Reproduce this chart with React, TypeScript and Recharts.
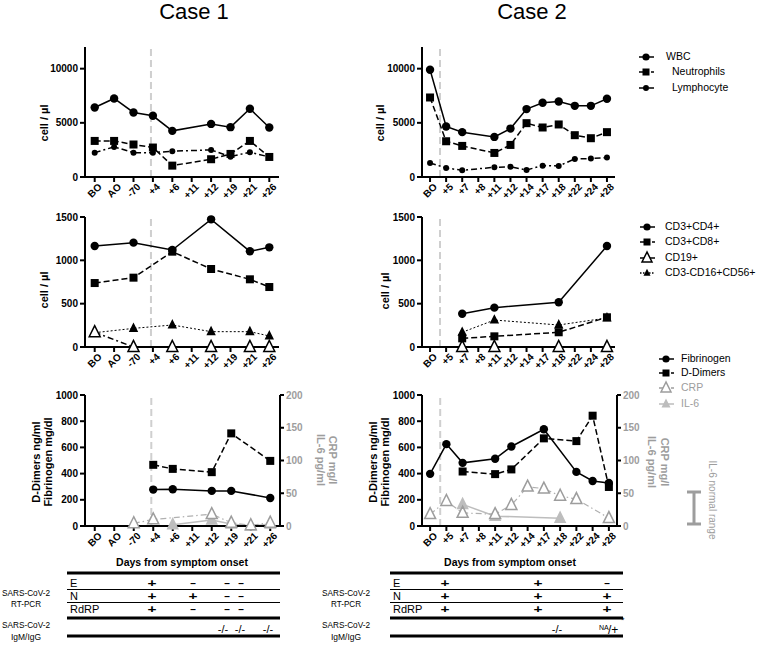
import React from 'react';
import { LineChart, Line, XAxis, YAxis, ReferenceLine } from 'recharts';

const FONT = '"Liberation Sans", Arial, Helvetica, sans-serif';
const GRAY = '#9d9d9d';
const LIGHT = '#bdbdbd';

// ---- Case 1 ----
const case1Days = ['BO', 'AO', '-70', '+4', '+6', '+11', '+12', '+19', '+21', '+26'];
const case1Wbc = [6420, 7250, 5960, 5650, 4260, null, 4900, 4600, 6300, 4570];
const case1Neutrophils = [3330, 3330, 3000, 2720, 1050, null, 1640, 2130, 3330, 1850];
const case1Lymphocytes = [2250, 2780, 2250, 2250, 2380, null, 2500, 1880, 2290, 1850];
const case1Cd4 = [1165, null, 1204, null, 1119, null, 1473, null, 1104, 1150];
const case1Cd8 = [738, null, 800, null, 1100, null, 900, null, 781, 692];
const case1Cd19 = [170, null, 0, null, 0, null, 0, null, 0, 0];
const case1Nk = [165, null, 215, null, 254, null, 177, null, 177, 127];
const case1Fibrinogen = [null, null, null, 278, 280, null, 268, 268, null, 214];
const case1DDimers = [null, null, null, 467, 436, null, 411, 707, null, 497];
const case1Crp = [null, null, 4, 10, null, null, 18, 5, 1, 5];
const case1Il6 = [null, null, null, null, 2, null, 9, 3, 0, 3];

// ---- Case 2 ----
const case2Days = ['BO', '+5', '+7', '+8', '+11', '+12', '+14', '+17', '+18', '+22', '+24', '+28'];
const case2Wbc = [9900, 4660, 4140, null, 3700, 4470, 6270, 6850, 6970, 6570, 6570, 7220];
const case2Neutrophils = [7340, 3300, 2870, null, 2220, 2960, 4970, 4570, 4850, 3860, 3580, 4140];
const case2Lymphocytes = [1300, 830, 620, null, 900, 940, 650, 1050, 1020, 1670, 1700, 1790];
const case2Cd4 = [null, null, 384, null, 454, null, null, null, 516, null, null, 1165];
const case2Cd8 = [null, null, 100, null, 123, null, null, null, 170, null, null, 343];
const case2Cd19 = [null, null, 0, null, 0, null, null, null, 0, null, null, 0];
const case2Nk = [null, null, 170, null, 311, null, null, null, 254, null, null, 335];
const case2Fibrinogen = [398, 625, 482, null, 513, 607, null, 738, null, 413, 344, 329];
const case2DDimers = [null, null, 416, null, 396, 432, null, 669, null, 648, 842, 298];
const case2Crp = [18, 38, 20, null, 18, 32, 60, 57, 46, 41, null, 12];
const case2Il6 = [null, null, 33, null, 15, null, null, null, 12, null, null, null];

// symptom onset marker (position between day columns)
const case1Onset = 2.9;
const case2Onset = 0.62;

// ---- tables ----
const pcrRows = ['E', 'N', 'RdRP'];
const case1Pcr = [
  ['+', '-', '-', '-'],
  ['+', '+', '-', '-'],
  ['+', '-', '-', '-'],
];
const case1Serology = ['-/-', '-/-', '-/-'];
const case2Pcr = [
  ['+', '+', '-'],
  ['+', '+', '+'],
  ['+', '+', '+'],
];
const case2Serology = ['-/-', 'NA/+'];

const cellTicks = [0, 5000, 10000];
const subsetTicks = [0, 500, 1000, 1500];
const coagTicks = [0, 200, 400, 600, 800, 1000];
const inflamTicks = [0, 50, 100, 150, 200];

type Row = Record<string, any>;
function buildRows(days: string[], series: Record<string, (number | null)[]>): Row[] {
  return days.map((d, i) => {
    const r: Row = { i, day: d };
    Object.keys(series).forEach((k) => (r[k] = series[k][i]));
    return r;
  });
}

const empty = (p: any) => p.cx == null || p.cy == null || p.value == null;

const circleDot = (r: number) => (p: any) =>
  empty(p) ? <g key={p.index} /> : <circle key={p.index} cx={p.cx} cy={p.cy} r={r} fill="#000" />;

const squareDot = (s: number) => (p: any) =>
  empty(p) ? <g key={p.index} /> : <rect key={p.index} x={p.cx - s / 2} y={p.cy - s / 2} width={s} height={s} fill="#000" />;

const triPoints = (cx: number, cy: number, s: number) =>
  `${cx},${cy - s * 0.6} ${cx - s / 2},${cy + s * 0.4} ${cx + s / 2},${cy + s * 0.4}`;

const triDot = (s: number, fill: string, stroke: string) => (p: any) =>
  empty(p) ? (
    <g key={p.index} />
  ) : (
    <polygon key={p.index} points={triPoints(p.cx, p.cy, s)} fill={fill} stroke={stroke} strokeWidth={1.5} />
  );

const axisLine = { stroke: '#000', strokeWidth: 2 };
const tickFont = { fontSize: 10, fontWeight: 'bold', fill: '#000', fontFamily: FONT };

const makeXTick = (labels: string[]) => (props: any) => {
  const { x, y, payload } = props;
  return (
    <g transform={`translate(${x},${y})`}>
      <text
        x={3}
        y={0}
        dy={8}
        textAnchor="end"
        transform="rotate(-45)"
        fontSize={10}
        fontWeight="bold"
        fontFamily={FONT}
        fill="#000"
      >
        {labels[payload.value]}
      </text>
    </g>
  );
};

const DASH = '6 3';
const DASHDOT = '6 3 2 3';
const DOT = '2 2';

interface PanelProps {
  days: string[];
  rows: Row[];
  onset: number;
  width: number;
  height: number;
  top: number;
  yWidth: number;
  right: number;
  domain: [number, number];
  ticks: number[];
  rightAxis?: boolean;
  children: React.ReactNode;
}

function Panel({ days, rows, onset, width, height, top, yWidth, right, domain, ticks, rightAxis, children }: PanelProps) {
  const n = days.length;
  return (
    <LineChart width={width} height={height} data={rows} margin={{ top, right, bottom: 0, left: 0 }}>
      <XAxis
        type="number"
        dataKey="i"
        domain={[-0.5, n - 0.5]}
        ticks={days.map((_, i) => i)}
        interval={0}
        height={43}
        axisLine={axisLine}
        tickLine={{ stroke: '#000', strokeWidth: 2 }}
        tickSize={5}
        tick={makeXTick(days)}
      />
      <YAxis
        yAxisId="left"
        domain={domain}
        ticks={ticks}
        width={yWidth}
        axisLine={axisLine}
        tickLine={{ stroke: '#000', strokeWidth: 2 }}
        tickSize={5}
        tick={tickFont}
        interval={0}
      />
      {rightAxis && (
        <YAxis
          yAxisId="right"
          orientation="right"
          domain={[0, 200]}
          ticks={inflamTicks}
          width={30}
          axisLine={axisLine}
          tickLine={{ stroke: '#000', strokeWidth: 2 }}
          tickSize={4}
          tick={{ fontSize: 10, fill: GRAY, fontFamily: FONT, fontWeight: 'bold' }}
          interval={0}
        />
      )}
      <ReferenceLine yAxisId="left" x={onset} stroke="#cfcfcf" strokeWidth={2} strokeDasharray="7 4" />
      {children}
    </LineChart>
  );
}

const line = (key: string, dot: any, dash?: string, stroke = '#000', axis = 'left', width = 1.5) => (
  <Line
    key={key}
    yAxisId={axis}
    type="linear"
    dataKey={key}
    stroke={stroke}
    strokeWidth={width}
    strokeDasharray={dash}
    connectNulls
    dot={dot}
    activeDot={false}
    isAnimationActive={false}
  />
);

const c1Top = buildRows(case1Days, { wbc: case1Wbc, neu: case1Neutrophils, lym: case1Lymphocytes });
const c2Top = buildRows(case2Days, { wbc: case2Wbc, neu: case2Neutrophils, lym: case2Lymphocytes });
const c1Mid = buildRows(case1Days, { cd4: case1Cd4, cd8: case1Cd8, cd19: case1Cd19, nk: case1Nk });
const c2Mid = buildRows(case2Days, { cd4: case2Cd4, cd8: case2Cd8, cd19: case2Cd19, nk: case2Nk });
const c1Bot = buildRows(case1Days, { fib: case1Fibrinogen, dd: case1DDimers, crp: case1Crp, il6: case1Il6 });
const c2Bot = buildRows(case2Days, { fib: case2Fibrinogen, dd: case2DDimers, crp: case2Crp, il6: case2Il6 });

const topLines = [
  line('lym', circleDot(3), DASHDOT),
  line('neu', squareDot(8), DASH),
  line('wbc', circleDot(4.2)),
];
const midLines = [
  line('nk', triDot(7, '#000', '#000'), DOT, '#000', 'left', 1),
  line('cd19', triDot(11, '#fff', '#000'), DASHDOT),
  line('cd8', squareDot(8), DASH),
  line('cd4', circleDot(4.2)),
];
const botLines = [
  line('il6', triDot(10, LIGHT, LIGHT), undefined, LIGHT, 'right'),
  line('crp', triDot(11, '#fff', GRAY), '6 3 1.5 3', '#b0b0b0', 'right', 1.2),
  line('dd', squareDot(8), DASH),
  line('fib', circleDot(4.2)),
];

function Rot({ x, y, angle, children, size = 11, fill = '#000', weight = 'bold' }: any) {
  return (
    <text
      transform={`translate(${x},${y}) rotate(${angle})`}
      textAnchor="middle"
      dominantBaseline="middle"
      fontSize={size}
      fontWeight={weight}
      fill={fill}
    >
      {children}
    </text>
  );
}

function LegendItem({ x, y, textX, kind, dash, color = '#000', label, textColor = '#000' }: any) {
  let marker: React.ReactNode = null;
  if (kind === 'circle') marker = <circle cx={x} cy={y} r={3.6} fill={color} />;
  if (kind === 'smallCircle') marker = <circle cx={x} cy={y} r={3} fill={color} />;
  if (kind === 'square') marker = <rect x={x - 3.5} y={y - 3.5} width={7} height={7} fill={color} />;
  if (kind === 'openTri') marker = <polygon points={triPoints(x, y, 10)} fill="#fff" stroke={color} strokeWidth={1.5} />;
  if (kind === 'tri') marker = <polygon points={triPoints(x, y, 7)} fill={color} />;
  if (kind === 'grayTri') marker = <polygon points={triPoints(x, y, 9)} fill={color} />;
  return (
    <g>
      <line x1={x - 7} x2={x + 8} y1={y} y2={y} stroke={color} strokeWidth={1.5} strokeDasharray={dash} />
      {marker}
      <text x={textX} y={y} dominantBaseline="middle" fontSize={10.5} fill={textColor}>
        {label}
      </text>
    </g>
  );
}

function Table({ x1, x2, cols, pcr, serology, serologyX }: any) {
  const rowY = [586, 599, 612];
  return (
    <g>
      <line x1={x1} x2={x2} y1={573} y2={573} stroke="#000" strokeWidth={3} />
      <line x1={x1} x2={x2} y1={589.5} y2={589.5} stroke="#000" strokeWidth={1} />
      <line x1={x1} x2={x2} y1={602.5} y2={602.5} stroke="#000" strokeWidth={1} />
      <line x1={x1} x2={x2} y1={618} y2={618} stroke="#000" strokeWidth={3} />
      <line x1={x1} x2={x2} y1={636} y2={636} stroke="#000" strokeWidth={3} />
      {pcrRows.map((r, ri) => (
        <text key={r} x={x1 + 3} y={rowY[ri] + 0.5} fontSize={11}>
          {r}
        </text>
      ))}
      {pcr.map((vals: string[], ri: number) =>
        vals.map((v, ci) => (
          <text
            key={`${ri}-${ci}`}
            x={cols[ci]}
            y={rowY[ri] + 1}
            textAnchor="middle"
            fontSize={v === '+' ? 11 : 10}
            fontWeight="bold"
            textLength={v === '+' ? 9 : undefined}
            lengthAdjust="spacingAndGlyphs"
          >
            {v === '-' ? '–' : v}
          </text>
        ))
      )}
      {serology.map((v: string, i: number) =>
        v === 'NA/+' ? (
          <g key={i}>
            <text x={serologyX[i] - 8} y={630} fontSize={7}>
              NA
            </text>
            <text x={serologyX[i] + 1} y={634} fontSize={12}>
              /+
            </text>
            <text x={serologyX[i] + 14} y={623} fontSize={9}>
              *
            </text>
          </g>
        ) : (
          <text key={i} x={serologyX[i]} y={633} textAnchor="middle" fontSize={11}>
            {v}
          </text>
        )
      )}
    </g>
  );
}

function SideLabels({ x }: { x: number }) {
  return (
    <g fontSize={9.5} textAnchor="middle">
      <text x={x} y={596} textLength={48} lengthAdjust="spacingAndGlyphs">
        SARS-CoV-2
      </text>
      <text x={x} y={607} textLength={30} lengthAdjust="spacingAndGlyphs">
        RT-PCR
      </text>
      <text x={x} y={628} textLength={48} lengthAdjust="spacingAndGlyphs">
        SARS-CoV-2
      </text>
      <text x={x} y={640} textLength={30} lengthAdjust="spacingAndGlyphs">
        IgM/IgG
      </text>
    </g>
  );
}

export default function App() {
  const abs = (left: number, top: number): React.CSSProperties => ({ position: 'absolute', left, top });
  return (
    <div
      style={{
        position: 'absolute',
        left: 0,
        top: 0,
        width: 759,
        height: 645,
        background: '#fff',
        fontFamily: FONT,
        overflow: 'hidden',
      }}
    >
      <div style={abs(0, 40)}>
        <Panel days={case1Days} rows={c1Top} onset={case1Onset} width={300} height={180} top={7} yWidth={85} right={21} domain={[0, 12000]} ticks={cellTicks}>
          {topLines}
        </Panel>
      </div>
      <div style={abs(340, 40)}>
        <Panel days={case2Days} rows={c2Top} onset={case2Onset} width={300} height={180} top={7} yWidth={82} right={25} domain={[0, 12000]} ticks={cellTicks}>
          {topLines}
        </Panel>
      </div>
      <div style={abs(0, 200)}>
        <Panel days={case1Days} rows={c1Mid} onset={case1Onset} width={300} height={190} top={17} yWidth={85} right={21} domain={[0, 1500]} ticks={subsetTicks}>
          {midLines}
        </Panel>
      </div>
      <div style={abs(340, 200)}>
        <Panel days={case2Days} rows={c2Mid} onset={case2Onset} width={300} height={190} top={17} yWidth={82} right={25} domain={[0, 1500]} ticks={subsetTicks}>
          {midLines}
        </Panel>
      </div>
      <div style={abs(0, 380)}>
        <Panel days={case1Days} rows={c1Bot} onset={case1Onset} width={310} height={189} top={15} yWidth={85} right={0} domain={[0, 1000]} ticks={coagTicks} rightAxis>
          {botLines}
        </Panel>
      </div>
      <div style={abs(340, 380)}>
        <Panel days={case2Days} rows={c2Bot} onset={case2Onset} width={307} height={189} top={15} yWidth={82} right={0} domain={[0, 1000]} ticks={coagTicks} rightAxis>
          {botLines}
        </Panel>
      </div>

      <svg width={759} height={645} style={{ position: 'absolute', left: 0, top: 0, pointerEvents: 'none' }} fontFamily={FONT}>
        <text x={194} y={19} fontSize={22} textAnchor="middle">
          Case 1
        </text>
        <text x={532} y={19} fontSize={22} textAnchor="middle">
          Case 2
        </text>

        <Rot x={45} y={123} angle={-90}>cell / µl</Rot>
        <Rot x={381} y={123} angle={-90}>cell / µl</Rot>
        <Rot x={45} y={290} angle={-90}>cell / µl</Rot>
        <Rot x={386} y={291} angle={-90}>cell / µl</Rot>

        <Rot x={37} y={462} angle={-90} size={11}>D-Dimers ng/ml</Rot>
        <Rot x={49} y={462} angle={-90} size={11}>Fibrinogen mg/dl</Rot>
        <Rot x={374} y={462} angle={-90} size={11}>D-Dimers ng/ml</Rot>
        <Rot x={386} y={462} angle={-90} size={11}>Fibrinogen mg/dl</Rot>

        <Rot x={332} y={460} angle={90} fill={GRAY} size={11}>CRP mg/l</Rot>
        <Rot x={320} y={460} angle={90} fill={GRAY} size={11}>IL-6 pg/ml</Rot>
        <Rot x={664} y={462} angle={90} fill={GRAY} size={11}>CRP mg/l</Rot>
        <Rot x={651} y={462} angle={90} fill={GRAY} size={11}>IL-6 pg/ml</Rot>

        <text x={182} y={566} fontSize={10.5} fontWeight="bold" textAnchor="middle">
          Days from symptom onset
        </text>
        <text x={510} y={566} fontSize={10.5} fontWeight="bold" textAnchor="middle">
          Days from symptom onset
        </text>

        <LegendItem x={646} y={57} textX={666} kind="circle" label="WBC" />
        <LegendItem x={646} y={72} textX={672} kind="square" dash="4 2" label="Neutrophils" />
        <LegendItem x={646} y={88} textX={672} kind="smallCircle" dash="5 2 1 2" label="Lymphocyte" />

        <LegendItem x={647} y={227} textX={665} kind="circle" label="CD3+CD4+" />
        <LegendItem x={647} y={242} textX={665} kind="square" dash="4 2" label="CD3+CD8+" />
        <LegendItem x={647} y={258} textX={665} kind="openTri" label="CD19+" />
        <LegendItem x={647} y={273} textX={665} kind="tri" dash="1.5 1.5" label="CD3-CD16+CD56+" />

        <LegendItem x={666} y={359} textX={681} kind="circle" label="Fibrinogen" />
        <LegendItem x={666} y={373} textX={681} kind="square" dash="4 2" label="D-Dimers" />
        <LegendItem x={666} y={388} textX={681} kind="openTri" color={GRAY} dash="4 2" label="CRP" textColor={GRAY} />
        <LegendItem x={666} y={404} textX={681} kind="grayTri" color={LIGHT} label="IL-6" textColor={GRAY} />

        <g stroke={GRAY} strokeWidth={3}>
          <line x1={694} x2={694} y1={492} y2={524} />
          <line x1={687} x2={701} y1={492} y2={492} />
          <line x1={687} x2={701} y1={524} y2={524} />
        </g>
        <Rot x={712} y={500} angle={90} fill={GRAY} size={10} weight="normal">IL-6 normal range</Rot>

        <SideLabels x={26} />
        <SideLabels x={346} />
        <Table x1={67} x2={280} cols={[152, 193, 227, 241]} pcr={case1Pcr} serology={case1Serology} serologyX={[223, 240, 268]} />
        <Table x1={390} x2={623} cols={[445, 538, 607]} pcr={case2Pcr} serology={case2Serology} serologyX={[557, 607]} />
      </svg>
    </div>
  );
}
